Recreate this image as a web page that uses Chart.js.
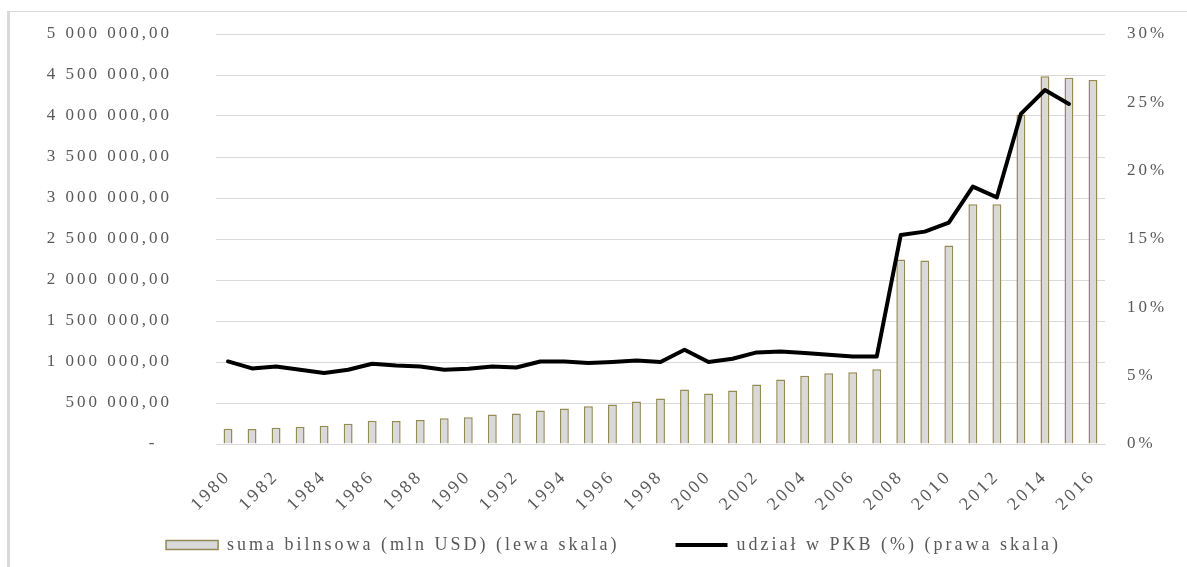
<!DOCTYPE html>
<html>
<head>
<meta charset="utf-8">
<script src="https://cdn.jsdelivr.net/npm/chart.js@4"></script>
<style>
  html, body { margin: 0; padding: 0; background: #fff; }
  #frame {
    position: absolute; left: 7px; top: 11px; right: 0; bottom: 0;
    border-left: 3px solid #d9d9d9; border-top: 1px solid #d9d9d9;
  }
  #wrap { position: absolute; left: 0; top: 0; width: 1187px; height: 567px; }
</style>
</head>
<body>
<div id="frame"></div>
<div id="wrap"><canvas id="myChart" width="1187" height="567"></canvas></div>
<script>
const years = [
  "1980", "1981", "1982", "1983", "1984", "1985", "1986", "1987", "1988", "1989",
  "1990", "1991", "1992", "1993", "1994", "1995", "1996", "1997", "1998", "1999",
  "2000", "2001", "2002", "2003", "2004", "2005", "2006", "2007", "2008", "2009",
  "2010", "2011", "2012", "2013", "2014", "2015", "2016"
];

// suma bilansowa, mln USD (lewa skala)
const assets = [
  186000, 183000, 198000, 210000, 223000, 247000, 283000, 280000, 292000, 313000,
  325000, 361000, 373000, 410000, 434000, 459000, 483000, 519000, 556000, 665000,
  617000, 653000, 726000, 787000, 831000, 864000, 876000, 912000, 2250000, 2238000,
  2421000, 2923000, 2923000, 4018000, 4485000, 4465000, 4440000
];

// udzial w PKB, % (prawa skala)
const gdpShare = [
  6.04, 5.53, 5.67, 5.43, 5.19, 5.43, 5.87, 5.75, 5.67, 5.43,
  5.5, 5.67, 5.6, 6.04, 6.04, 5.92, 6.0, 6.11, 6.0, 6.89,
  6.0, 6.24, 6.7, 6.77, 6.65, 6.53, 6.4, 6.4, 15.3, 15.54,
  16.2, 18.83, 18.05, 24.15, 25.9, 24.88, null
];

const leftTicks = [0, 500000, 1000000, 1500000, 2000000, 2500000, 3000000, 3500000, 4000000, 4500000, 5000000];
const rightTicks = [0, 5, 10, 15, 20, 25, 30];

const labelGray = "#595959";
const fontFamily = "'Liberation Serif', 'Times New Roman', serif";

const fmtMoney = (v) => {
  if (v === 0) return "-  ";
  const s = String(Math.round(v)).replace(/\B(?=(\d{3})+(?!\d))/g, " ");
  return s + ",00";
};

// stretched look of the original text
const spacing = {
  id: "spacing",
  beforeUpdate(chart) { chart.ctx.letterSpacing = "3px"; },
  beforeLayout(chart) { chart.ctx.letterSpacing = "3px"; },
  beforeDraw(chart) { chart.ctx.letterSpacing = "3px"; }
};

// y axes: fixed width, no extra top/bottom padding from the tick padding
const fixY = (w) => (scale) => {
  scale.width = w;
  scale.paddingTop = 0;
  scale.paddingBottom = 0;
};

const canvas = document.getElementById("myChart");
new Chart(canvas, {
  type: "bar",
  data: {
    labels: years,
    datasets: [
      {
        label: "suma bilnsowa (mln USD) (lewa skala)",
        data: assets,
        yAxisID: "y",
        backgroundColor: "#d9d9d9",
        borderColor: "#948a54",
        borderWidth: 1.5,
        barPercentage: 0.37,
        categoryPercentage: 1,
        pointStyle: "rect",
        order: 1
      },
      {
        type: "line",
        label: "udział w PKB (%) (prawa skala)",
        data: gdpShare,
        yAxisID: "y1",
        borderColor: "#000",
        backgroundColor: "#000",
        borderWidth: 4,
        pointRadius: 0,
        tension: 0,
        borderJoinStyle: "round",
        borderCapStyle: "round",
        pointStyle: "line",
        order: 0
      }
    ]
  },
  options: {
    responsive: false,
    animation: false,
    layout: { padding: { left: 40, top: 34, right: 0, bottom: 3 } },
    plugins: {
      tooltip: { enabled: false },
      legend: {
        position: "bottom",
        labels: {
          usePointStyle: true,
          pointStyleWidth: 52,
          boxHeight: 9,
          padding: 26,
          color: labelGray,
          font: { family: fontFamily, size: 18 },
          sort: (a, b) => a.datasetIndex - b.datasetIndex,
          generateLabels: (chart) => {
            const items = Chart.defaults.plugins.legend.labels.generateLabels(chart);
            items.forEach((it) => { if (it.datasetIndex === 0) it.text += "    "; });
            return items;
          }
        }
      }
    },
    scales: {
      x: {
        offset: true,
        grid: { display: false },
        border: { color: "#d9d9d9", width: 1 },
        ticks: {
          autoSkip: false,
          maxRotation: 45,
          minRotation: 45,
          padding: 14,
          color: labelGray,
          font: { family: fontFamily, size: 18 },
          callback: (v, i) => (i % 2 === 0 ? years[i] : "")
        },
        afterFit: (scale) => { scale.height = 66; }
      },
      y: {
        position: "left",
        min: 0,
        max: 5000000,
        afterBuildTicks: (scale) => { scale.ticks = leftTicks.map((v) => ({ value: v })); },
        grid: { color: "#d9d9d9", lineWidth: 1, drawTicks: false },
        border: { display: false },
        ticks: {
          padding: 44,
          color: labelGray,
          font: { family: fontFamily, size: 17 },
          callback: (v) => fmtMoney(v)
        },
        afterFit: fixY(176)
      },
      y1: {
        position: "right",
        min: 0,
        max: 30,
        afterBuildTicks: (scale) => { scale.ticks = rightTicks.map((v) => ({ value: v })); },
        grid: { display: false, drawTicks: false },
        border: { display: false },
        ticks: {
          padding: 22,
          color: labelGray,
          font: { family: fontFamily, size: 17 },
          callback: (v) => v + "%"
        },
        afterFit: fixY(82)
      }
    }
  },
  plugins: [spacing]
});
</script>
</body>
</html>
